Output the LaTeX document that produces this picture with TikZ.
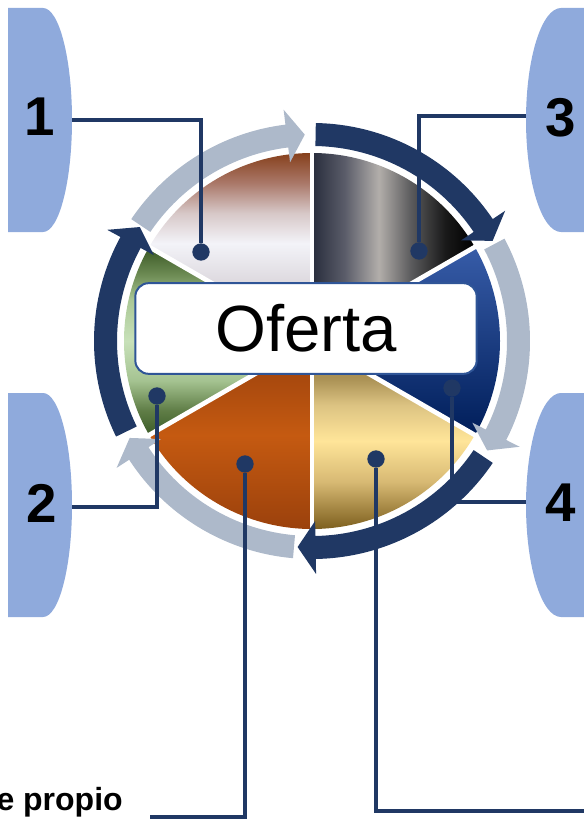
\documentclass[tikz,border=0pt]{standalone}
\usepackage{fontspec}
\setmainfont{Liberation Sans}
\usepackage{tikz}
\usetikzlibrary{positioning}

\definecolor{navy}{RGB}{32,56,100}
\definecolor{greyblue}{RGB}{173,185,202}
\definecolor{tabblue}{RGB}{143,170,220}
\definecolor{boxline}{RGB}{47,85,151}

% slice shadings
\pgfdeclareverticalshading{sliceA}{100bp}{rgb(0bp)=(.784,.769,.8); rgb(25bp)=(.784,.769,.8); rgb(41bp)=(.871,.855,.878); rgb(51bp)=(.953,.953,.973); rgb(59bp)=(.843,.784,.784); rgb(67bp)=(.667,.471,.412); rgb(75bp)=(.525,.251,.110); rgb(100bp)=(.525,.251,.110)}
\pgfdeclarehorizontalshading{sliceB}{100bp}{rgb(0bp)=(.157,.176,.235); rgb(25bp)=(.157,.176,.235); rgb(35bp)=(.353,.361,.412); rgb(45.5bp)=(.698,.682,.667); rgb(55.5bp)=(.353,.353,.361); rgb(66bp)=(.098,.098,.098); rgb(75bp)=(0,0,0); rgb(100bp)=(0,0,0)}
\pgfdeclareverticalshading{sliceD}{100bp}{rgb(0bp)=(.49,.373,.118); rgb(25bp)=(.49,.373,.118); rgb(37.5bp)=(.843,.725,.451); rgb(48.5bp)=(1,.898,.6); rgb(58bp)=(.863,.765,.51); rgb(65bp)=(.667,.569,.333); rgb(75bp)=(.588,.49,.255); rgb(100bp)=(.588,.49,.255)}
\pgfdeclareverticalshading{sliceF}{100bp}{rgb(0bp)=(.235,.361,.157); rgb(25bp)=(.235,.361,.157); rgb(31.5bp)=(.373,.49,.275); rgb(39.5bp)=(.647,.765,.569); rgb(50bp)=(.784,.882,.725); rgb(61bp)=(.667,.784,.588); rgb(67.5bp)=(.431,.549,.333); rgb(75bp)=(.22,.341,.137); rgb(100bp)=(.22,.341,.137)}

\begin{document}
\begin{tikzpicture}[x=0.75pt,y=0.75pt,yscale=-1,xscale=1,
  conn/.style={draw=navy, line width=3.5pt},
  dot/.style={circle, fill=navy, inner sep=0pt, minimum size=13pt},
  num/.style={font=\fontsize{41}{41}\selectfont\bfseries, inner sep=0pt},
  tab/.style={fill=tabblue},
  sep/.style={draw=white, line width=3.5pt},
  oferta/.style={draw=boxline, fill=white, line width=1.5pt, rounded corners=10pt,
    minimum width=256pt, minimum height=68pt, inner sep=0pt, font=\fontsize{49}{49}\selectfont}
  ]
\useasboundingbox (0,0) rectangle (584,820);

%Shape: tabs
\fill[tab] (8,8) -- (43,8) arc[start angle=-90, end angle=90, x radius=29, y radius=112] -- (8,232) -- cycle ;
\fill[tab] (8,393) -- (43,393) arc[start angle=-90, end angle=90, x radius=29, y radius=112] -- (8,617) -- cycle ;
\fill[tab] (590,8) -- (561,8) arc[start angle=-90, end angle=-270, x radius=35, y radius=112] -- (590,232) -- cycle ;
\fill[tab] (590,393) -- (561,393) arc[start angle=-90, end angle=-270, x radius=35, y radius=112] -- (590,617) -- cycle ;

% Text Node
\node[num] (n1) at (40,117) {1};
\node[num] (n2) at (42,503) {2};
\node[num] (n3) at (561,118) {3};
\node[num] (n4) at (561,503) {4};

\begin{scope}[shift={(312,341)}]
%Shape: pie
\shade[shading=sliceA] (0,0) -- (-150:188) arc[start angle=-150, end angle=-90, radius=188] -- cycle ;
\shade[shading=sliceB] (0,0) -- (-90:188) arc[start angle=-90, end angle=-30, radius=188] -- cycle ;
\shade[top color={rgb,255:red,55;green,92;blue,168}, bottom color={rgb,255:red,0;green,30;blue,90}]
  (0,0) -- (-30:188) arc[start angle=-30, end angle=30, radius=188] -- cycle ;
\shade[shading=sliceD] (0,0) -- (30:188) arc[start angle=30, end angle=90, radius=188] -- cycle ;
\shade[top color={rgb,255:red,150;green,62;blue,12}, bottom color={rgb,255:red,155;green,65;blue,12}, middle color={rgb,255:red,197;green,90;blue,17}]
  (0,0) -- (90:188) arc[start angle=90, end angle=150, radius=188] -- cycle ;
\shade[shading=sliceF] (0,0) -- (150:188) arc[start angle=150, end angle=210, radius=188] -- cycle ;
\foreach \a in {-150,-90,...,150}
  \draw[sep] (0,0) -- (\a:192) ;

%Shape: light arrows
\foreach \s/\t [evaluate=\t as \b using \t-5] in {-28/32, 95/152, 214/268}
  \fill[greyblue] (\s:218) arc[start angle=\s, end angle=\b, radius=218] -- (\b:233) -- (\t:206.5) -- (\b:180) -- (\b:195) arc[start angle=\b, end angle=\s, radius=195] -- cycle ;
\end{scope}

% Text Node
\node[oferta] (ofr) at (306,328.5) {Oferta};

% connectors
\coordinate (t1) at (72,120);
\coordinate (t2) at (72,507);
\coordinate (t3) at (526,116);
\coordinate (t4) at (526,502);
\coordinate (e5) at (150,817);
\coordinate (e6) at (590,811);
\node[dot] (d1) at (201,252) {};
\node[dot] (d2) at (157,396) {};
\node[dot] (d3) at (419,251) {};
\node[dot] (d4) at (452,388) {};
\node[dot] (d5) at (245,464) {};
\node[dot] (d6) at (376,459) {};
\draw[conn] (t1) -| (d1) ;
\draw[conn] (t2) -| (d2) ;
\draw[conn] (t3) -| (d3) ;
\draw[conn] (t4) -| (d4) ;
\draw[conn] (d5) |- (e5) ;
\draw[conn] (d6) |- (e6) ;

% Text Node
\node[font=\fontsize{24}{24}\selectfont\bfseries, anchor=base east, inner sep=0pt] (prop) at (123,810) {e propio};

%Shape: dark arrows
\begin{scope}[shift={(312,341)}]
\foreach \s/\t [evaluate=\t as \b using \t-5] in {-89/-29, 34/94, 154/213.5}
  \fill[navy] (\s:218) arc[start angle=\s, end angle=\b, radius=218] -- (\b:233) -- (\t:206.5) -- (\b:180) -- (\b:195) arc[start angle=\b, end angle=\s, radius=195] -- cycle ;
\end{scope}

\end{tikzpicture}
\end{document}
